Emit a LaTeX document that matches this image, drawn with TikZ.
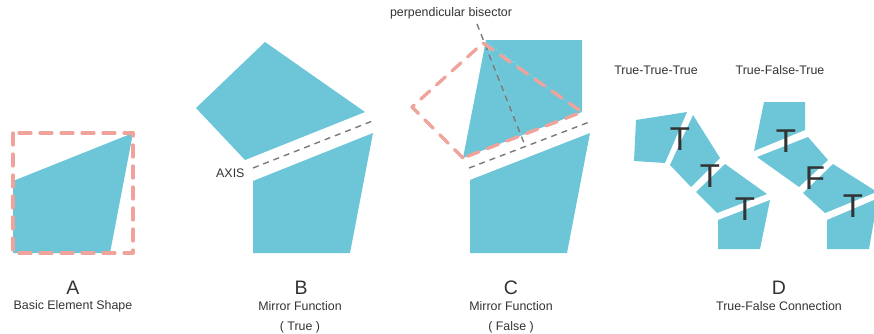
\documentclass[tikz,border=0pt]{standalone}
\usepackage{fontspec}
\setmainfont{Liberation Sans}

\definecolor{tealfill}{HTML}{6CC6D8}
\definecolor{guidepink}{HTML}{EFA39B}
\definecolor{axisgray}{HTML}{7A7A7A}
\definecolor{ink}{HTML}{333333}

\tikzset{
  tile/.style={fill=tealfill, draw=none},
  outline/.style={draw=guidepink, line width=3.3pt, dash pattern=on 12pt off 9pt, line cap=round, line join=round},
  mirror/.style={draw=axisgray, line width=1.4pt, dash pattern=on 6pt off 5pt},
  hint/.style={draw=white, line width=0.5pt, dotted, opacity=0.7},
  caption/.style={text=ink, font=\fontsize{12.4}{20}\selectfont, align=center},
  panel/.style={text=ink, font=\fontsize{19.5}{20}\selectfont},
  logic/.style={text=ink, font=\fontsize{33}{33}\selectfont},
}

\begin{document}
\begin{tikzpicture}[x=1pt, y=-1pt]
  \useasboundingbox (0,0) rectangle (874,333);

  % A: basic element
  \fill[tile] (133,133) -- (13,181) -- (13,253) -- (110,253) -- cycle;
  \draw[outline] (13,133) rectangle (133,253);

  % B: mirror (true)
  \fill[tile] (265,42) -- (196,108) -- (245,160) -- (365,112) -- cycle;
  \fill[tile] (253,181) -- (373,133) -- (350,253) -- (253,253) -- cycle;
  \draw[mirror] (253,168) -- (375,120);
  \node[caption, anchor=east] (axislbl) at (248,173) {AXIS};

  % C: mirror (false)
  \fill[tile] (486,40) -- (582,40) -- (582,112) -- (463,158) -- cycle;
  \fill[tile] (470,180) -- (590,133) -- (567,253) -- (470,253) -- cycle;
  \draw[hint] (486,42) -- (582,112);
  \draw[hint] (486,42) -- (524,143);
  \draw[mirror] (477,24) -- (524,143);
  \draw[mirror] (469,168) -- (592,121);
  \draw[outline] (463,158) -- (412,107) -- (483,43) -- (582,112) -- cycle;
  \node[caption] (bisect) at (451,13) {perpendicular bisector};

  % D: true-false chains
  \node[caption] (ttt) at (656,70) {True-True-True};
  \node[caption] (tft) at (780,70) {True-False-True};

  \fill[tile] (636,120) -- (687,112) -- (665,163) -- (634,161) -- cycle;
  \fill[tile] (693,115) -- (720,158) -- (691,187) -- (670,165) -- cycle;
  \fill[tile] (725,164) -- (767,194) -- (717,213) -- (696,192) -- cycle;
  \fill[tile] (718,220) -- (770,200) -- (760,249) -- (718,249) -- cycle;
  \node[logic] (t1) at (680,139) {T};
  \node[logic] (t2) at (710,176) {T};
  \node[logic] (t3) at (745,209) {T};

  \fill[tile] (764,102) -- (805,102) -- (805,130) -- (754,151) -- cycle;
  \fill[tile] (757,157) -- (808,137) -- (828,160) -- (799,187) -- cycle;
  \fill[tile] (803,193) -- (833,164) -- (874,190) -- (874,193) -- (825,213) -- cycle;
  \fill[tile] (827,220) -- (874,200) -- (874,220) -- (869,249) -- (827,249) -- cycle;
  \node[logic] (t4) at (786,141) {T};
  \node[logic] (f1) at (815,178) {F};
  \node[logic] (t5) at (853,206) {T};

  % captions
  \node[panel] (la) at (73,288) {A};
  \node[panel] (lb) at (301,288) {B};
  \node[panel] (lc) at (511,288) {C};
  \node[panel] (ld) at (779,288) {D};
  \node[caption] (ca) at (73,306) {Basic Element Shape};
  \node[caption, anchor=north] (cb) at (300,298) {Mirror Function\\( True )};
  \node[caption, anchor=north] (cc) at (511,298) {Mirror Function\\( False )};
  \node[caption] (cd) at (779,306) {True-False Connection};
\end{tikzpicture}
\end{document}
